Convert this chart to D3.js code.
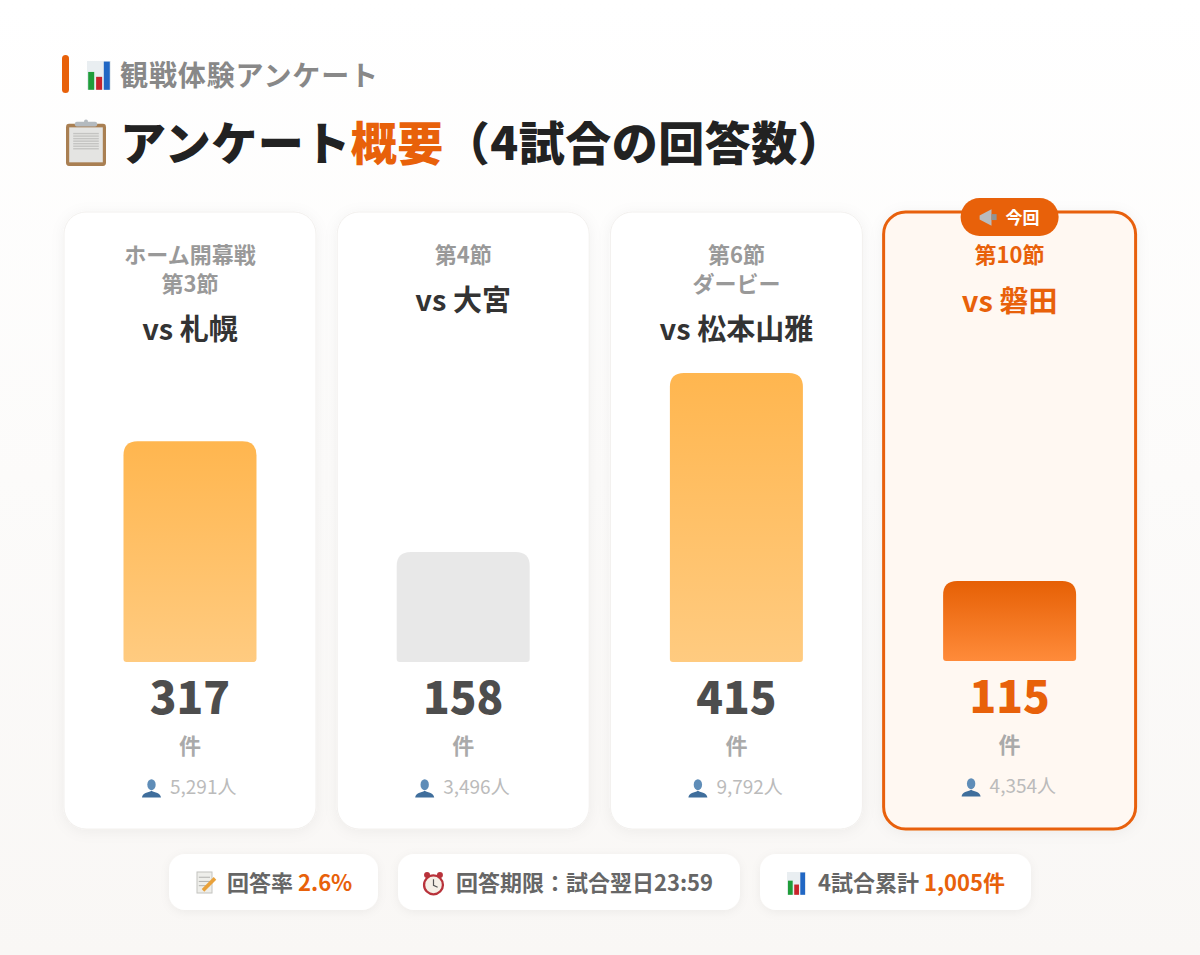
<!DOCTYPE html>
<html lang="ja">
<head>
<meta charset="utf-8">
<script src="https://cdn.jsdelivr.net/npm/d3@7"></script>
<style>
  html, body { margin: 0; padding: 0; overflow: hidden; background: #fff; }
  svg { display: block; }
  text { font-family: "Noto Sans CJK JP", "Noto Sans", sans-serif; }
</style>
</head>
<body>
<script>
// survey data
const rounds = [['ホーム開幕戦', '第3節'], ['第4節'], ['第6節', 'ダービー'], ['第10節']];
const opponents = ['vs 札幌', 'vs 大宮', 'vs 松本山雅', 'vs 磐田'];
const responses = [317, 158, 415, 115];
const attendance = ['5,291人', '3,496人', '9,792人', '4,354人'];
const barKinds = ['normal', 'low', 'normal', 'current'];
const currentIndex = 3;
const unitLabel = '件';

const width = 1200;
const height = 955;

const svg = d3.select('body')
  .append('svg')
    .attr('width', width)
    .attr('height', height);

const defs = svg.append('defs');

const addGradient = (id, stops) => {
  const g = defs.append('linearGradient')
    .attr('id', id)
    .attr('x1', 0).attr('y1', 0).attr('x2', 0).attr('y2', 1);
  stops.forEach(([offset, color]) => {
    g.append('stop').attr('offset', offset).attr('stop-color', color);
  });
};

addGradient('bg', [['0%', '#ffffff'], ['100%', '#f9f7f5']]);
addGradient('bar-normal', [['0%', '#ffb64f'], ['100%', '#ffcb80']]);
addGradient('bar-low', [['0%', '#e8e8e8'], ['100%', '#e8e8e8']]);
addGradient('bar-current', [['0%', '#e66005'], ['100%', '#ff8b3a']]);

const addShadow = (id, dev, opacity) => {
  defs.append('filter')
    .attr('id', id)
    .attr('x', '-20%').attr('y', '-20%').attr('width', '140%').attr('height', '140%')
    .append('feDropShadow')
      .attr('dx', 0).attr('dy', 2)
      .attr('stdDeviation', dev)
      .attr('flood-color', '#000')
      .attr('flood-opacity', opacity);
};
addShadow('card-shadow', 7, 0.05);
addShadow('pill-shadow', 5, 0.05);

svg.append('rect')
  .attr('width', width)
  .attr('height', height)
  .attr('fill', 'url(#bg)');

// small picture icons, there is no emoji font to rely on
const icons = {
  chart(g, s) {
    g.append('rect').attr('width', s).attr('height', s).attr('fill', '#e9eef1');
    [[0.05, 0.62, '#1f9d3a'], [0.38, 0.45, '#c8242b'], [0.7, 0.98, '#2167c4']].forEach(([x, h, c]) => {
      g.append('rect')
        .attr('x', x * s).attr('y', s * (1 - h))
        .attr('width', s * 0.25).attr('height', s * h)
        .attr('fill', c);
    });
  },
  clipboard(g, s) {
    g.append('rect').attr('y', s * 0.08).attr('width', s).attr('height', s * 0.92).attr('rx', 3).attr('fill', '#a97f52');
    g.append('rect').attr('x', s * 0.08).attr('y', s * 0.16).attr('width', s * 0.84).attr('height', s * 0.76).attr('fill', '#e4e4e2');
    d3.range(7).forEach(n => {
      g.append('rect')
        .attr('x', s * 0.18).attr('y', s * (0.28 + n * 0.055))
        .attr('width', s * 0.64).attr('height', s * 0.03)
        .attr('fill', '#c4c4c2');
    });
    g.append('rect').attr('x', s * 0.22).attr('y', s * 0.04).attr('width', s * 0.56).attr('height', s * 0.1).attr('rx', 2).attr('fill', '#b4babf');
    g.append('circle').attr('cx', s * 0.5).attr('cy', s * 0.04).attr('r', s * 0.05).attr('fill', '#b4babf');
  },
  megaphone(g, s) {
    g.append('path')
      .attr('d', `M0,${s * 0.38} L${s * 0.7},${s * 0.02} L${s * 0.7},${s * 0.98} L0,${s * 0.62} Z`)
      .attr('fill', '#b9bcbf');
    g.append('rect').attr('x', s * 0.7).attr('y', s * 0.3).attr('width', s * 0.3).attr('height', s * 0.35).attr('fill', '#8f9396');
  },
  memo(g, s) {
    g.append('rect').attr('x', s * 0.05).attr('width', s * 0.75).attr('height', s).attr('fill', '#eeeeea').attr('stroke', '#c4c4c0');
    [0.25, 0.45, 0.65].forEach(y => {
      g.append('line')
        .attr('x1', s * 0.14).attr('x2', s * 0.7)
        .attr('y1', s * y).attr('y2', s * y)
        .attr('stroke', '#b5b5b2').attr('stroke-width', 1);
    });
    g.append('line')
      .attr('x1', s * 0.35).attr('y1', s * 0.88)
      .attr('x2', s * 0.95).attr('y2', s * 0.3)
      .attr('stroke', '#e9a23b').attr('stroke-width', s * 0.18);
  },
  clock(g, s) {
    g.append('circle').attr('cx', s * 0.22).attr('cy', s * 0.13).attr('r', s * 0.13).attr('fill', '#b8323a');
    g.append('circle').attr('cx', s * 0.78).attr('cy', s * 0.13).attr('r', s * 0.13).attr('fill', '#b8323a');
    g.append('circle').attr('cx', s * 0.5).attr('cy', s * 0.56).attr('r', s * 0.41).attr('fill', '#f5efe6').attr('stroke', '#b8323a').attr('stroke-width', s * 0.1);
    g.append('path')
      .attr('d', `M${s * 0.5},${s * 0.32} V${s * 0.58} L${s * 0.68},${s * 0.66}`)
      .attr('fill', 'none').attr('stroke', '#555').attr('stroke-width', 1.2);
  },
  person(g, s) {
    g.append('ellipse').attr('cx', s * 0.5).attr('cy', s * 0.3).attr('rx', s * 0.22).attr('ry', s * 0.29).attr('fill', '#5f8db8');
    g.append('path')
      .attr('d', `M0,${s * 0.98} C${s * 0.02},${s * 0.72} ${s * 0.32},${s * 0.72} ${s * 0.5},${s * 0.62} C${s * 0.68},${s * 0.72} ${s * 0.98},${s * 0.72} ${s},${s * 0.98} Z`)
      .attr('fill', '#3f6e9c');
  }
};

const drawIcon = (parent, name, x, y, s, stretch = 1) => {
  const g = parent.append('g').attr('transform', `translate(${x}, ${y}) scale(1, ${stretch})`);
  icons[name](g, s);
};

// header
svg.append('rect')
  .attr('x', 62).attr('y', 55)
  .attr('width', 7).attr('height', 38)
  .attr('rx', 3.5)
  .attr('fill', '#e8610a');

drawIcon(svg, 'chart', 87, 61, 24, 1.2);

svg.append('text')
  .attr('x', 120).attr('y', 86)
  .attr('font-size', 28)
  .attr('font-weight', 700)
  .attr('letter-spacing', 0.9)
  .attr('fill', '#888')
  .text('観戦体験アンケート');

drawIcon(svg, 'clipboard', 66, 120, 40, 1.15);

const title = svg.append('text')
  .attr('x', 120).attr('y', 160)
  .attr('font-size', 46)
  .attr('font-weight', 900)
  .attr('letter-spacing', 0.5)
  .attr('fill', '#222');
title.append('tspan').text('アンケート');
title.append('tspan').attr('fill', '#e8610a').text('概要');
title.append('tspan').text('（4試合の回答数）');

// cards
const indices = d3.range(responses.length);

const x = d3.scaleBand()
  .domain(indices)
  .range([64, 1135.6])
  .paddingInner(0.0777);

const barBase = 662;
const barMaxHeight = 289;
const barWidth = 133;

const y = d3.scaleLinear()
  .domain([0, d3.max(responses)])
  .range([barBase, barBase - barMaxHeight]);

const cardTop = 212;
const cardBottom = 829;

const cards = svg.selectAll('.card')
  .data(indices)
  .enter()
  .append('g')
    .attr('class', 'card')
    .attr('transform', d => `translate(${x(d)}, 0)`);

cards.append('rect')
  .attr('y', cardTop)
  .attr('width', x.bandwidth())
  .attr('height', cardBottom - cardTop)
  .attr('rx', 22)
  .attr('fill', d => d === currentIndex ? '#fff8f2' : '#fff')
  .attr('stroke', d => d === currentIndex ? '#e8610a' : '#f2f0ee')
  .attr('stroke-width', d => d === currentIndex ? 3 : 1)
  .attr('filter', 'url(#card-shadow)');

const cx = x.bandwidth() / 2;
const orange = '#e8610a';

cards.each(function (d) {
  const card = d3.select(this);
  const isCurrent = d === currentIndex;
  const off = isCurrent ? -1 : 0;

  rounds[d].forEach((line, n) => {
    card.append('text')
      .attr('x', cx)
      .attr('y', 263 + n * 29)
      .attr('text-anchor', 'middle')
      .attr('font-size', 22)
      .attr('font-weight', 700)
      .attr('fill', isCurrent ? orange : '#999')
      .text(line);
  });

  card.append('text')
    .attr('x', cx)
    .attr('y', (rounds[d].length > 1 ? 340 : 311) + (isCurrent ? 1 : 0))
    .attr('text-anchor', 'middle')
    .attr('font-size', 29)
    .attr('font-weight', 700)
    .attr('fill', isCurrent ? orange : '#333')
    .text(opponents[d]);

  const top = y(responses[d]) + off;
  const base = barBase + off;
  const left = cx - barWidth / 2;
  const right = left + barWidth;
  card.append('path')
    .attr('d', [
      `M${left},${base - 3}`,
      `V${top + 14}`,
      `Q${left},${top} ${left + 14},${top}`,
      `H${right - 14}`,
      `Q${right},${top} ${right},${top + 14}`,
      `V${base - 3}`,
      `Q${right},${base} ${right - 3},${base}`,
      `H${left + 3}`,
      `Q${left},${base} ${left},${base - 3}`,
      'Z'
    ].join(' '))
    .attr('fill', `url(#bar-${barKinds[d]})`);

  card.append('text')
    .attr('x', cx)
    .attr('y', 714 + off)
    .attr('text-anchor', 'middle')
    .attr('font-size', 44)
    .attr('font-weight', 900)
    .attr('fill', isCurrent ? orange : '#4d4d4d')
    .text(d3.format('d')(responses[d]));

  card.append('text')
    .attr('x', cx)
    .attr('y', 754 + off)
    .attr('text-anchor', 'middle')
    .attr('font-size', 22)
    .attr('font-weight', 700)
    .attr('fill', '#aaa')
    .text(unitLabel);

  drawIcon(card, 'person', cx - 48, 779 + off, 19);
  card.append('text')
    .attr('x', cx - 20)
    .attr('y', 794 + off)
    .attr('font-size', 19)
    .attr('font-weight', 400)
    .attr('fill', '#bbb')
    .text(attendance[d]);
});

// "this time" badge
const badge = svg.append('g').attr('transform', `translate(${x(currentIndex) + cx}, 217)`);
badge.append('rect')
  .attr('x', -49).attr('y', -19)
  .attr('width', 98).attr('height', 38)
  .attr('rx', 19)
  .attr('fill', orange);
drawIcon(badge, 'megaphone', -30, -8, 17);
badge.append('text')
  .attr('x', -4).attr('y', 7)
  .attr('font-size', 17)
  .attr('font-weight', 700)
  .attr('fill', '#fff')
  .text('今回');

// footer pills
const pills = [
  { x: 169, w: 209, icon: 'memo', iconX: 27, iconY: 18, size: 20, stretch: 1.05, label: '回答率 ', accent: '2.6%' },
  { x: 398, w: 342, icon: 'clock', iconX: 24, iconY: 18, size: 23, stretch: 1, label: '回答期限：試合翌日23:59', accent: '' },
  { x: 760, w: 271, icon: 'chart', iconX: 27, iconY: 18, size: 19, stretch: 1.2, label: '4試合累計 ', accent: '1,005件' }
];

pills.forEach(p => {
  const g = svg.append('g').attr('transform', `translate(${p.x}, 854)`);
  g.append('rect')
    .attr('width', p.w).attr('height', 56)
    .attr('rx', 16)
    .attr('fill', '#fff')
    .attr('filter', 'url(#pill-shadow)');
  drawIcon(g, p.icon, p.iconX, p.iconY, p.size, p.stretch);
  const t = g.append('text')
    .attr('x', 58).attr('y', 37)
    .attr('font-size', 22)
    .attr('font-weight', 700)
    .attr('fill', '#666');
  t.append('tspan').text(p.label);
  t.append('tspan').attr('fill', orange).text(p.accent);
});
</script>
</body>
</html>
